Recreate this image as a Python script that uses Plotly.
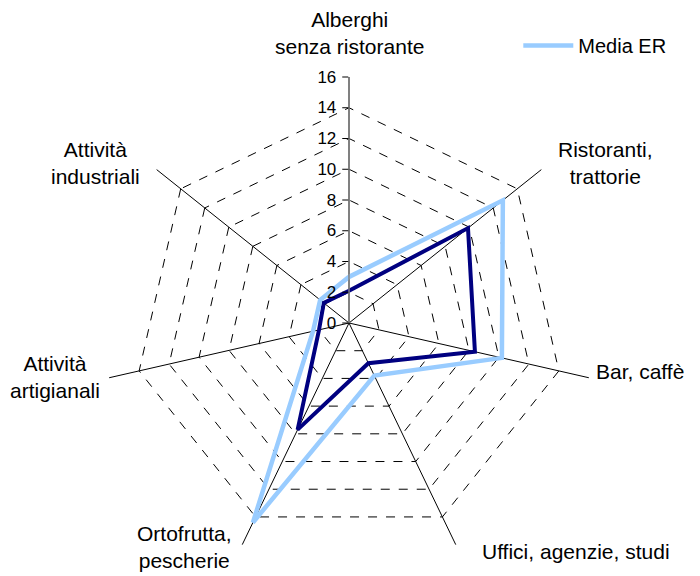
import plotly.graph_objects as go

categories = [
    "Alberghi senza ristorante",
    "Ristoranti, trattorie",
    "Bar, caffè",
    "Uffici, agenzie, studi",
    "Ortofrutta, pescherie",
    "Attività artigianali",
    "Attività industriali",
]
category_labels = [
    "Alberghi<br>senza ristorante",
    "Ristoranti,<br>trattorie",
    "Bar, caffè",
    "Uffici, agenzie, studi",
    "Ortofrutta,<br>pescherie",
    "Attività<br>artigianali",
    "Attività<br>industriali",
]
provincia = [2.1, 9.9, 8.4, 2.9, 7.7, 2.0, 2.1]
media_er = [3.0, 12.8, 10.2, 3.8, 14.4, 2.4, 2.4]
radial_ticks = [0, 2, 4, 6, 8, 10, 12, 14, 16]

FONT = "Liberation Sans, Arial, sans-serif"

fig = go.Figure()
fig.add_trace(go.Scatterpolar(
    r=provincia + provincia[:1], theta=categories + categories[:1],
    mode="lines", name="Provincia", showlegend=False,
    line=dict(color="#000080", width=4),
))
fig.add_trace(go.Scatterpolar(
    r=media_er + media_er[:1], theta=categories + categories[:1],
    mode="lines", name="Media ER",
    line=dict(color="#99CCFF", width=4.5),
))

# category label placement (paper coords, centre of text block)
label_pos = [
    (341, 25), (597, 155), (632, 363), (568, 543),
    (177, 539), (47, 369), (87, 155),
]
for text, (px, py) in zip(category_labels, label_pos):
    fig.add_annotation(
        x=px / 700, y=1 - py / 576, xref="paper", yref="paper",
        text=text, showarrow=False, xanchor="center", yanchor="middle",
        align="center", font=dict(size=21, family=FONT, color="black"),
    )

fig.update_layout(
    width=700, height=576,
    margin=dict(l=0, r=0, t=0, b=0),
    paper_bgcolor="white", plot_bgcolor="white",
    font=dict(family=FONT, color="black"),
    polar=dict(
        domain=dict(x=[95 / 700, 587 / 700], y=[1 - 561 / 576, 1 - 69 / 576]),
        bgcolor="white",
        gridshape="linear",
        angularaxis=dict(
            rotation=90, direction="clockwise",
            showline=False, gridcolor="black", gridwidth=1,
            ticks="", showticklabels=False,
        ),
        radialaxis=dict(
            range=[0, 16], tickvals=radial_ticks, ticktext=[str(v) for v in radial_ticks],
            angle=90, tickangle=90, side="counterclockwise",
            showline=True, linecolor="#808080", linewidth=1.5,
            ticks="outside", ticklen=6, tickcolor="black",
            gridcolor="black", gridwidth=1, griddash="dash",
            tickfont=dict(size=17, family=FONT, color="black"),
        ),
    ),
    legend=dict(
        x=0.729, y=0.935, xanchor="left", yanchor="middle",
        itemwidth=50,
        font=dict(size=20, family=FONT, color="black"),
        bgcolor="rgba(0,0,0,0)",
    ),
)

fig.write_html("out.html")
